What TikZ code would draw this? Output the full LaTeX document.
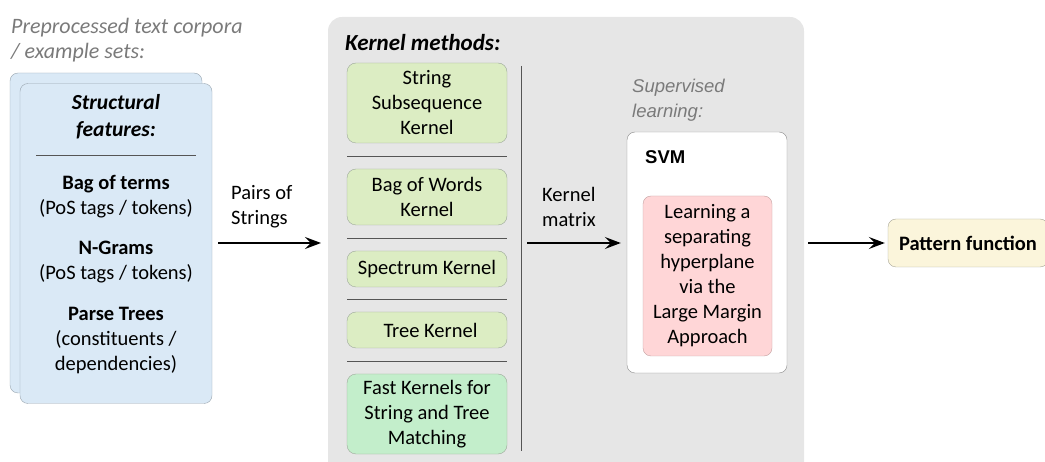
\documentclass[tikz,border=0pt]{standalone}
\usepackage{fontspec}
\setmainfont{Carlito}
\newfontfamily\arialfont{Liberation Sans}
\usepackage{tikz}
\usetikzlibrary{arrows.meta}
\usetikzlibrary{positioning}

\definecolor{cardblue}{HTML}{DAE9F6}
\definecolor{cardline}{HTML}{9AA6B0}
\definecolor{kgreen}{HTML}{DCEDC3}
\definecolor{kdark}{HTML}{C3EECB}
\definecolor{kline}{HTML}{9DA89A}
\definecolor{bggray}{HTML}{E6E6E6}
\definecolor{notegray}{HTML}{7A7A7A}
\definecolor{sepgray}{HTML}{555555}
\definecolor{svmline}{HTML}{8C8C8C}
\definecolor{hpink}{HTML}{FFD6D7}
\definecolor{hline}{HTML}{C4A2A2}
\definecolor{pyellow}{HTML}{FBF5DB}
\definecolor{pline}{HTML}{A8A698}

\tikzset{
  card/.style={draw=cardline, fill=cardblue, rounded corners=8pt,
    minimum width=192pt, minimum height=320pt, inner sep=0pt},
  kbox/.style={draw=kline, fill=kgreen, rounded corners=9pt,
    minimum width=160pt, align=center, inner sep=0pt},
  sepline/.style={draw=sepgray, line width=0.9pt},
  flow/.style={-{Stealth[length=16pt,width=12pt,inset=6pt]}, line width=1.4pt},
  note/.style={text=notegray, font=\itshape\fontsize{22pt}{25pt}\selectfont, align=left, inner sep=0pt},
  txt/.style={align=center, inner sep=0pt},
}

\begin{document}
\fontsize{20.5pt}{25pt}\selectfont
\begin{tikzpicture}[x=1pt, y=-1pt]
\useasboundingbox (0,0) rectangle (1045,462);

% input corpora
\node[note, anchor=west] (corpora) at (11,40) {Preprocessed text corpora\\/ example sets:};
\node[card] (back) at (106,233) {};
\node[card] (front) at (116,243.5) {};
\node[txt, font=\bfseries\itshape\fontsize{21.5pt}{27pt}\selectfont] (struct) at (116,117) {Structural\\features:};
\draw[draw=sepgray, line width=0.9pt] (36,155) -- (196,155);
\node[txt] (bag) at (116,196.5) {\textbf{Bag of terms}\\(PoS tags / tokens)};
\node[txt] (ngram) at (116,262.5) {\textbf{N-Grams}\\(PoS tags / tokens)};
\node[txt] (parse) at (116,341) {\textbf{Parse Trees}\\(constituents /\\dependencies)};
\node[txt, align=left, anchor=west] (pairs) at (231,207) {Pairs of\\Strings};

% kernel methods
\fill[bggray, rounded corners=14pt] (328,17) rectangle (804,480);
\coordinate (kin) at (328,243);
\node[anchor=west, inner sep=0pt, font=\bfseries\itshape\fontsize{23pt}{25pt}\selectfont] (kernels) at (345,43) {Kernel methods:};
\node[kbox, minimum height=80pt] (ssk) at (427,103) {String\\Subsequence\\Kernel};
\node[kbox, minimum height=56pt] (bow) at (427,197) {Bag of Words\\Kernel};
\node[kbox, minimum height=36pt] (spec) at (427,269) {Spectrum Kernel};
\node[kbox, minimum height=36pt] (tree) at (427,330) {\hspace{7pt}Tree Kernel};
\node[kbox, fill=kdark, minimum height=80pt] (fast) at (427,414) {Fast Kernels for\\String and Tree\\Matching};
\foreach \y in {156,238,299,361}
  \draw[sepline] (347,\y) -- (507,\y);
\draw[sepline] (521,66) -- (521,451);
\coordinate (kout) at (521,243);
\node[txt, align=left, anchor=west] (kmatrix) at (542,207) {Kernel\\matrix};

% supervised learning
\node[note, font=\arialfont\itshape\fontsize{18.5pt}{25pt}\selectfont, anchor=west] (superv) at (632,100) {Supervised\\learning:};
\node[draw=svmline, fill=white, rounded corners=8pt, minimum width=160pt,
  minimum height=241pt, inner sep=0pt] (svm) at (707,252.5) {};
\node[anchor=west, inner sep=0pt, font=\arialfont\bfseries\fontsize{18.5pt}{25pt}\selectfont] (svmlabel) at (645,157) {SVM};
\node[draw=hline, fill=hpink, rounded corners=8pt, minimum width=129pt,
  minimum height=160pt, align=center, inner sep=0pt] (hyper) at (707.5,276)
  {Learning a\\separating\\hyperplane\\via the\\Large Margin\\Approach};

% output
\node[draw=pline, fill=pyellow, rounded corners=8pt, minimum width=160pt,
  minimum height=48pt, inner sep=0pt, font=\bfseries] (pattern) at (968,243) {Pattern function};

% arrows
\draw[flow, shorten <=6pt, shorten >=7pt] (front.east |- kin) -- (kin);
\draw[flow, shorten <=6pt, shorten >=6pt] (kout) -- (svm.west |- kout);
\draw[flow, shorten <=21pt, shorten >=3pt] (svm.east |- kout) -- (pattern.west);
\end{tikzpicture}
\end{document}
